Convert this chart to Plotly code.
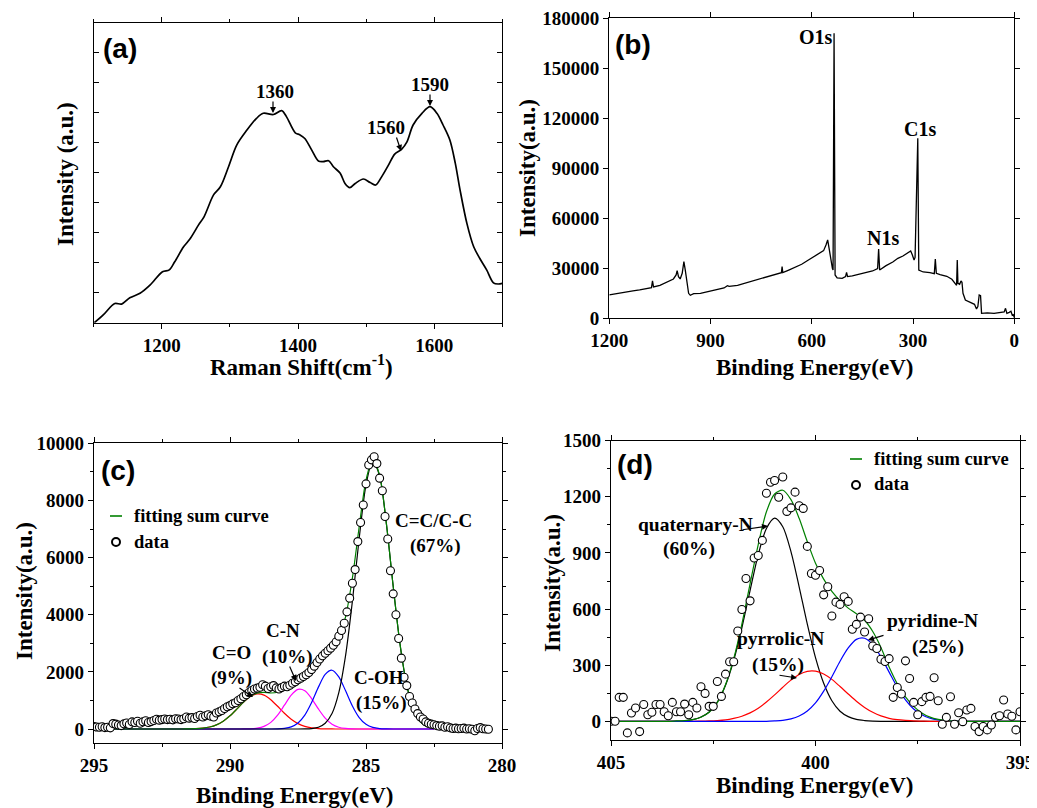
import plotly.graph_objects as go
import numpy as np

W, H = 1037, 808
# the page body adds an 8 px margin around the figure; layout positions below are in window pixels
OX, OY = 8, 8

# ---------------- (a) Raman spectrum ----------------
raman_shift = [1101,1114,1131,1141,1153,1168,1183,1201,1211,1219,1232,1241,1254,1262,1276,1286,1298,1310,1325,1339,
               1349,1364,1376,1383,1396,1403,1410,1420,1430,1437,1445,1452,1462,1469,1476,1484,1496,1506,1514,1523,
               1533,1542,1552,1560,1569,1582,1594,1604,1613,1623,1631,1638,1648,1658,1667,1677,1687,1694,1700]
raman_int = [0.0,0.26,0.64,0.62,0.83,0.98,1.26,1.70,1.76,2.03,2.53,2.78,3.26,3.53,4.26,4.53,5.2,5.92,6.42,6.81,
             6.98,6.94,7.07,6.87,6.33,6.26,6.14,5.76,5.39,5.37,5.4,5.2,4.98,4.64,4.5,4.64,4.79,4.67,4.59,4.87,
             5.26,5.62,5.78,6.03,6.59,6.98,7.2,6.98,6.59,6.09,5.31,4.42,3.31,2.53,2.14,1.76,1.33,1.29,1.31]

# ---------------- (b) XPS survey ----------------
survey_energy = [1200,1185,1170,1150,1130,1110,1090,1075,1072,1069,1050,1030,1010,1002,999,995,990,984,979,975,
                 970,965,960,950,930,900,880,860,850,845,820,800,780,760,740,720,700,690,688,686,
                 670,650,630,610,590,575,565,558,553,548,543,539,537,534,531,525,510,500,497,494,
                 480,460,440,420,405,402,399,380,360,345,330,315,307,302,297,294,286,283,270,250,
                 237,234,231,220,200,185,175,171,169,167,162,158,155,152,145,130,118,112,108,104,
                 100,97,80,60,40,30,26,22,15,10,6,3,0]
survey_counts = [14000,14600,15200,15600,16400,17000,17800,18400,22500,18800,19800,21600,23600,26000,28600,25000,23600,27000,34000,29000,
                 22000,15000,13800,14800,15000,16400,17400,18200,19600,19200,19800,21000,22200,23400,24600,25800,26800,27400,31000,27400,
                 28800,30400,32400,35000,37400,39200,40600,44000,47000,41000,34000,30000,29000,171000,26000,24200,24000,25000,27600,25000,
                 25400,26400,27400,28400,29800,41500,29000,31600,33800,36000,37400,39400,40400,38000,35000,36500,108000,29000,27800,27400,
                 26800,35600,27000,26200,25200,23400,21000,19800,35000,21000,20400,22400,21600,15000,11000,9800,8400,5600,7000,14000,
                 13600,3000,3200,2900,3400,3800,6000,3000,3600,4200,1800,2200,500]

# ---------------- (c) C1s ----------------
c1s_grid = [295.0, 292.0, 291.75, 291.5, 291.25, 291.0, 290.75, 290.5, 290.25, 290.0,
            289.75, 289.5, 289.25, 289.0, 288.75, 288.5, 288.25, 288.0, 287.75, 287.5,
            287.25, 287.0, 286.75, 286.5, 286.25, 286.0, 285.75, 285.5, 285.25, 285.0,
            284.75, 284.5, 284.25, 284.0, 283.75, 283.5, 283.25, 283.0, 282.75, 282.5]
c_CO = [0, 0, 1, 4, 11, 30, 69, 145, 275, 462,
        695, 940, 1135, 1228, 1187, 1027, 796, 551, 342, 189,
        94, 42, 17, 6, 2, 0, 0, 0, 0, 0,
        0, 0, 0, 0, 0, 0, 0, 0, 0, 0]
c_CN = [0, 0, 0, 0, 0, 0, 0, 0, 0, 0,
        0, 2, 8, 30, 92, 232, 485, 833, 1184, 1386,
        1340, 1067, 702, 381, 170, 63, 19, 5, 1, 0,
        0, 0, 0, 0, 0, 0, 0, 0, 0, 0]
c_COH = [0, 0, 0, 0, 0, 0, 0, 0, 0, 0,
         0, 0, 0, 0, 0, 1, 5, 22, 74, 208,
         486, 927, 1466, 1912, 2057, 1825, 1337, 808, 402, 165,
         56, 16, 4, 1, 0, 0, 0, 0, 0, 0]
c_CC = [0, 0, 0, 0, 0, 0, 0, 0, 0, 0,
        0, 0, 0, 0, 0, 0, 0, 0, 0, 0,
        4, 17, 61, 200, 540, 1272, 2575, 4473, 6675, 8546,
        9390, 8860, 7182, 4995, 2974, 1526, 672, 255, 82, 23]
c_sum = list(np.array(c_CO) + np.array(c_CN) + np.array(c_COH) + np.array(c_CC))

c1s_energy = [round(295.0 - 0.1 * i, 1) for i in range(146)]
c1s_data = [90, 70, 60, 80, 50, 60, 40, 190, 170, 140,
            120, 180, 210, 160, 250, 230, 270, 200, 250, 290,
            230, 260, 300, 340, 310, 330, 350, 330, 340, 320,
            360, 350, 330, 360, 420, 380, 400, 370, 440, 480,
            420, 460, 500, 450, 420, 560, 600, 650, 720, 780,
            820, 880, 920, 1000, 1060, 1140, 1200, 1280, 1350, 1400,
            1430, 1460, 1550, 1500, 1420, 1480, 1520, 1440, 1400, 1450,
            1500, 1480, 1530, 1600, 1650, 1720, 1780, 1840, 1900, 1980,
            2080, 2200, 2330, 2450, 2560, 2650, 2740, 2830, 2930, 3050,
            3250, 3450, 3700, 4100, 4580, 5100, 5580, 6560, 7230, 7840,
            8580, 9240, 9420, 9530, 9290, 8780, 8340, 7440, 6650, 5540,
            4730, 4000, 3170, 2480, 1810, 1520, 1140, 910, 700, 540,
            420, 350, 250, 200, 170, 150, 120, 100, 110, 60,
            80, 40, 20, 30, 10, 20, 30, 0, 10, -10,
            -60, 20, 50, 10, 0, -10]

# ---------------- (d) N1s ----------------
n1s_grid = [round(405.0 - 0.2 * k, 1) for k in range(51)]
n_quat = [0, 0, 0, 0, 0, 0, 0, 0, 1, 3,
          9, 23, 50, 103, 193, 326, 500, 699, 891, 1031,
          1086, 1040, 907, 719, 519, 340, 203, 110, 54, 25,
          10, 4, 1, 0, 0, 0, 0, 0, 0, 0,
          0, 0, 0, 0, 0, 0, 0, 0, 0, 0, 0]
n_pyrrolic = [0, 0, 0, 0, 0, 0, 0, 0, 0, 0,
              0, 1, 2, 4, 8, 16, 27, 45, 70, 103,
              141, 182, 220, 250, 267, 268, 253, 224, 186, 146,
              107, 74, 48, 29, 16, 9, 5, 2, 1, 0,
              0, 0, 0, 0, 0, 0, 0, 0, 0, 0, 0]
n_pyridine = [0, 0, 0, 0, 0, 0, 0, 0, 0, 0,
              0, 0, 0, 0, 0, 0, 0, 0, 0, 0,
              2, 5, 13, 28, 55, 98, 161, 238, 321, 392,
              438, 444, 410, 344, 263, 182, 115, 66, 35, 16,
              7, 3, 1, 0, 0, 0, 0, 0, 0, 0, 0]
n_sum = [0, 0, 0, 0, 0, 0, 0, 0, 2, 4,
         9, 22, 48, 100, 195, 335, 520, 735, 945, 1120,
         1215, 1235, 1185, 1085, 960, 845, 760, 695, 645, 605,
         575, 540, 480, 395, 290, 200, 130, 80, 45, 22,
         10, 4, 1, 0, 0, 0, 0, 0, 0, 0, 0]

n1s_energy = [round(405.0 - 0.1 * i, 1) for i in range(101)]
n1s_data = [0, 0, 128, 128, -62, 44, 71, -55, 90, 35,
            48, 90, 90, 51, 30, 101, 51, 51, 92, 35,
            101, 71, 185, 149, 80, 80, 213, 133, 252, 318,
            318, 483, 598, 763, 644, 873, 886, 967, 1219, 1278,
            1287, 1198, 1306, 1122, 1141, 1225, 1152, 1138, 935, 790,
            781, 806, 676, 719, 563, 637, 625, 666, 641, 492,
            518, 557, 477, 548, 403, 389, 332, 320, 335, 128,
            181, 146, 323, 229, 101, 35, 105, 128, 133, 233,
            110, -16, 21, 131, -16, 46, -2, 60, 69, -28,
            -55, -28, -46, -20, 21, 30, 114, 39, 27, -46, 51]

# ---------------- figure ----------------
SERIF = "Liberation Serif"
SANS = "Liberation Sans"
GREEN = "#008000"

fig = go.Figure()

fig.add_trace(go.Scatter(x=raman_shift, y=raman_int, mode="lines", xaxis="x", yaxis="y",
                         line=dict(color="black", width=1.7, shape="spline", smoothing=0.9)))
fig.add_trace(go.Scatter(x=survey_energy, y=survey_counts, mode="lines", xaxis="x2", yaxis="y2",
                         line=dict(color="black", width=1.3)))

for yy, col in [(c_CO, "#FF0000"), (c_CN, "#FF00FF"), (c_COH, "#0000FF"), (c_CC, "black"), (c_sum, GREEN)]:
    fig.add_trace(go.Scatter(x=c1s_grid, y=yy, mode="lines", xaxis="x3", yaxis="y3",
                             line=dict(color=col, width=1.2, shape="spline", smoothing=0.8)))
fig.add_trace(go.Scatter(x=c1s_energy, y=c1s_data, mode="markers", xaxis="x3", yaxis="y3",
                         marker=dict(symbol="circle", size=8, color="white",
                                     line=dict(color="black", width=1.1))))

for yy, col in [(n_quat, "black"), (n_pyrrolic, "#FF0000"), (n_pyridine, "#0000FF"), (n_sum, GREEN)]:
    fig.add_trace(go.Scatter(x=n1s_grid, y=yy, mode="lines", xaxis="x4", yaxis="y4",
                             line=dict(color=col, width=1.2, shape="spline", smoothing=0.8)))
fig.add_trace(go.Scatter(x=n1s_energy, y=n1s_data, mode="markers", xaxis="x4", yaxis="y4",
                         marker=dict(symbol="circle", size=8, color="white",
                                     line=dict(color="black", width=1.1))))


def dom_x(l, r):
    return [(l - OX) / W, (r - OX) / W]


def dom_y(t, b):
    return [1 - (b - OY) / H, 1 - (t - OY) / H]


TICKFONT = dict(family=SERIF, size=19, color="black", weight="bold")


def axis(domain, rng, dtick, tick0=0, minor=None, ticks="outside", labels=True, fmt=None, anchor=None):
    d = dict(domain=domain, range=rng, dtick=dtick, tick0=tick0, ticks=ticks, ticklen=5,
             tickwidth=1.2, tickcolor="black", showline=True, linecolor="black", linewidth=1.3,
             mirror="ticks", showgrid=False, zeroline=False, showticklabels=labels,
             tickfont=TICKFONT, anchor=anchor, automargin=False, ticklabeloverflow="allow")
    if minor:
        d["minor"] = dict(dtick=minor, ticks=ticks, ticklen=3, tickwidth=1, tickcolor="black", showgrid=False)
    if fmt:
        d["tickformat"] = fmt
    return d


fig.update_layout(
    template="none",
    width=W, height=H, margin=dict(l=0, r=0, t=0, b=0, pad=0, autoexpand=False),
    paper_bgcolor="white", plot_bgcolor="white", showlegend=False,
    xaxis=axis(dom_x(93.7, 502.3), [1100, 1700], 200, 1200, minor=100, anchor="y"),
    yaxis=axis(dom_y(22.7, 322.7), [0, 10], 1, 0, ticks="inside", labels=False, anchor="x"),
    xaxis2=axis(dom_x(609.3, 1014.3), [1200, 0], 300, 0, anchor="y2"),
    yaxis2=axis(dom_y(18.3, 318.3), [0, 180000], 30000, 0, fmt="d", anchor="x2"),
    xaxis3=axis(dom_x(94, 502), [295, 280], 5, 280, minor=2.5, anchor="y3"),
    yaxis3=axis(dom_y(443.3, 743.3), [-500, 10000], 2000, 0, minor=1000, fmt="d", anchor="x3"),
    xaxis4=axis(dom_x(611, 1020), [405, 395], 5, 395, minor=2.5, anchor="y4"),
    yaxis4=axis(dom_y(440.7, 740), [-100, 1500], 300, 0, minor=150, fmt="d", anchor="x4"),
)


def P(px, py):
    return (px - OX) / W, 1 - (py - OY) / H


ann = []


def text(t, px, py, size=19, family=SERIF, xanchor="center", angle=0):
    x, y = P(px, py)
    ann.append(dict(text="<b>" + t + "</b>", x=x, y=y, xref="paper", yref="paper",
                    xanchor=xanchor, yanchor="middle", showarrow=False, textangle=angle,
                    font=dict(family=family, size=size, color="black")))


def arrow(tail, head):
    x, y = P(*head)
    ann.append(dict(text="", x=x, y=y, xref="paper", yref="paper", showarrow=True,
                    ax=tail[0] - head[0], ay=tail[1] - head[1], arrowhead=2, arrowsize=1,
                    arrowwidth=1.2, arrowcolor="black"))


# panel labels
text("(a)", 120, 48, 28, SANS)
text("(b)", 633, 44, 28, SANS)
text("(c)", 118, 471, 28, SANS)
text("(d)", 635, 465, 28, SANS)

# axis titles
text("Raman Shift(cm<sup>-1</sup>)", 301, 366, 23)
text("Intensity (a.u.)", 66, 174, 23, angle=-90)
text("Binding Energy(eV)", 814, 367, 23)
text("Intensity(a.u.)", 528, 168, 23, angle=-90)
text("Binding Energy(eV)", 294, 795, 23)
text("Intensity(a.u.)", 24, 591, 23, angle=-90)
text("Binding Energy(eV)", 814, 785, 23)
text("Intensity(a.u.)", 552, 583, 23, angle=-90)

# (a) peak labels
text("1360", 275, 92, 19)
arrow((273, 100), (273, 113))
text("1590", 430, 85, 19)
arrow((430, 93), (430, 106))
text("1560", 386, 127, 19)
arrow((396, 136), (401, 151))

# (b) labels
text("O1s", 816, 37, 20)
text("C1s", 920, 129, 20)
text("N1s", 883, 238, 20)

# (c) labels
text("C=C/C-C", 433, 520, 19)
text("(67%)", 435, 546, 19)
text("C=O", 231, 652, 19)
text("(9%)", 231, 678, 19)
arrow((238, 687), (253, 697))
text("C-N", 283, 630, 19)
text("(10%)", 287, 657, 19)
arrow((289, 665), (296, 681))
text("C-OH", 379, 677, 19)
text("(15%)", 381, 703, 19)
text("fitting sum curve", 132, 516, 18.5, xanchor="left")
text("data", 132, 542, 18.5, xanchor="left")

# (d) labels
text("quaternary-N", 695, 524, 19.5)
text("(60%)", 689, 549, 19.5)
arrow((741, 530), (768, 526))
text("pyrrolic-N", 780, 638, 19.5)
text("(15%)", 778, 665, 19.5)
arrow((778, 675), (797, 678))
text("pyridine-N", 932, 620, 19.5)
text("(25%)", 938, 647, 19.5)
arrow((885, 635), (868, 640))
text("fitting sum curve", 872, 459, 18.5, xanchor="left")
text("data", 872, 484, 18.5, xanchor="left")

fig.update_layout(annotations=ann)

# legend glyphs
shapes = []
for (lx0, lx1, ly), (cx, cy) in [((110, 122, 516), (116, 542)), ((850, 862, 459), (856, 485))]:
    a0 = P(lx0, ly)
    a1 = P(lx1, ly)
    shapes.append(dict(type="line", xref="paper", yref="paper", x0=a0[0], y0=a0[1], x1=a1[0], y1=a1[1],
                       line=dict(color=GREEN, width=1.6)))
    c0 = P(cx - 4, cy + 4)
    c1 = P(cx + 4, cy - 4)
    shapes.append(dict(type="circle", xref="paper", yref="paper", x0=c0[0], y0=c0[1], x1=c1[0], y1=c1[1],
                       line=dict(color="black", width=2), fillcolor="white"))
fig.update_layout(shapes=shapes)

fig.write_html("out.html")
